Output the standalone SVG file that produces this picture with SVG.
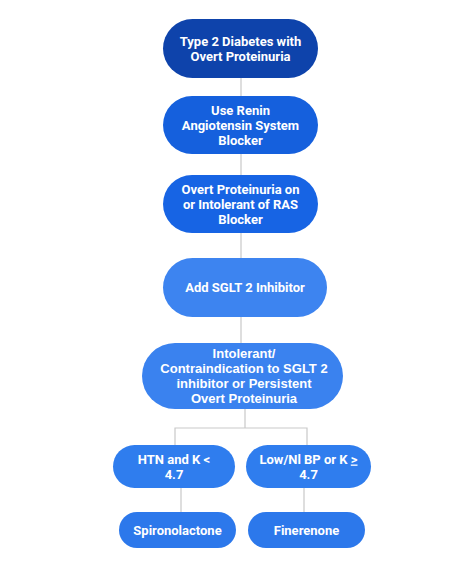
<svg xmlns="http://www.w3.org/2000/svg" width="473" height="581" viewBox="0 0 473 581">
<style>
text{font-family:Roboto,"Liberation Sans",Arial,sans-serif;font-weight:bold;font-size:13px;fill:#fff;text-anchor:middle}
text.a{font-family:"Liberation Sans",Arial,sans-serif}
.c{stroke:#c9c9c9;stroke-width:1.2;fill:none}
</style>
<rect width="473" height="581" fill="#fff"/>
<g id="connectors">
<path class="c" d="M241 78V96M241 154V175M241 233V258M241 317V343M245 409V428M175 445V428H307V445M181 488V512M304 488V512"/>
</g>
<g id="n1"><rect x="163" y="19" width="155" height="59" rx="29.5" fill="#0e43ab"/>
<text x="240.5" y="46">Type 2 Diabetes with</text><text x="240.5" y="61">Overt Proteinuria</text></g>
<g id="n2"><rect x="163" y="96" width="155" height="58" rx="29" fill="#1560dd"/>
<text x="240.5" y="115">Use Renin</text><text x="240.5" y="130">Angiotensin System</text><text x="240.5" y="145">Blocker</text></g>
<g id="n3"><rect x="163" y="175" width="155" height="58" rx="29" fill="#1764e4"/>
<text x="240.5" y="194">Overt Proteinuria on</text><text x="240.5" y="209">or Intolerant of RAS</text><text x="240.5" y="224">Blocker</text></g>
<g id="n4"><rect x="163" y="258" width="164" height="59" rx="29.5" fill="#3d84f0"/>
<text x="245" y="292">Add SGLT 2 Inhibitor</text></g>
<g id="n5"><rect x="142" y="343" width="201" height="66" rx="33" fill="#3a82ef"/>
<text class="a" x="244" y="358">Intolerant/</text><text class="a" x="244" y="373">Contraindication to SGLT 2</text><text class="a" x="244" y="388">inhibitor or Persistent</text><text class="a" x="244" y="403">Overt Proteinuria</text></g>
<g id="n6"><rect x="113" y="445" width="122" height="43" rx="21.5" fill="#2f7dee"/>
<text x="174" y="463.5">HTN and K &lt;</text><text x="174" y="478.5">4.7</text></g>
<g id="n7"><rect x="246" y="445" width="125" height="43" rx="21.5" fill="#2f7dee"/>
<text x="308.5" y="463.5">Low/Nl BP or K <tspan text-decoration="underline">&gt;</tspan></text><text x="308.5" y="478.5">4.7</text></g>
<g id="n8"><rect x="119" y="512" width="117" height="36" rx="18" fill="#2c78eb"/>
<text x="177.5" y="534.5">Spironolactone</text></g>
<g id="n9"><rect x="248" y="512" width="117" height="36" rx="18" fill="#2c78eb"/>
<text x="306.5" y="534.5">Finerenone</text></g>
</svg>
